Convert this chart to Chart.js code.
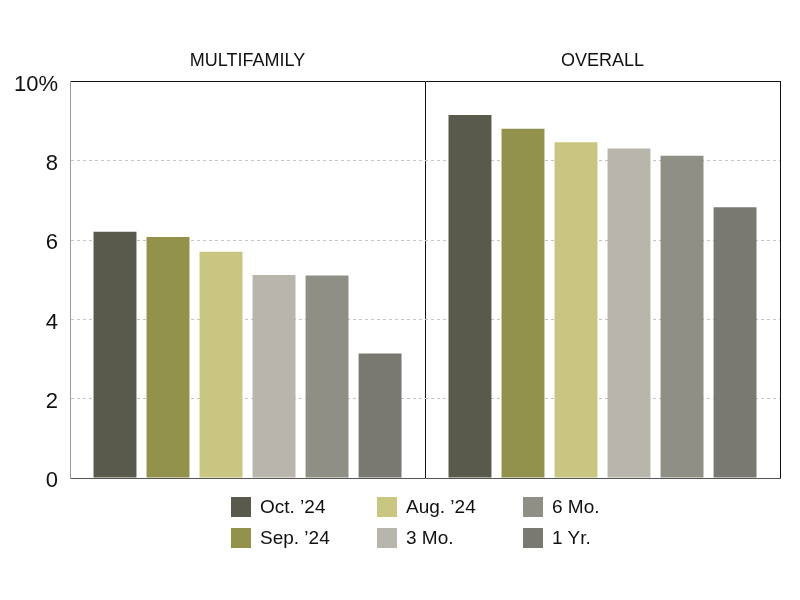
<!DOCTYPE html>
<html>
<head>
<meta charset="utf-8">
<script src="https://cdn.jsdelivr.net/npm/chart.js@4/dist/chart.umd.min.js"></script>
<style>
  body { margin: 0; background: #fff; }
  #wrap { position: relative; width: 800px; height: 600px; }
  #legend {
    position: absolute; left: 231px; top: 497px;
    display: grid; grid-template-columns: 146px 146px auto;
    grid-auto-flow: column; grid-template-rows: 20px 20px; row-gap: 11px;
    font-family: "Liberation Sans", Arial, sans-serif; font-size: 19px; color: #111;
  }
  .item { display: flex; align-items: center; height: 20px; }
  .box { width: 20px; height: 20px; margin-right: 9px; }
</style>
</head>
<body>
<div id="wrap">
  <canvas id="chart" width="800" height="600"></canvas>
  <div id="legend"></div>
</div>
<script>
// categories and series
const categories = ["MULTIFAMILY", "OVERALL"];
const seriesNames = ["Oct. \u201924", "Sep. \u201924", "Aug. \u201924", "3 Mo.", "6 Mo.", "1 Yr."];
const seriesColors = ["#5a5a4c", "#93924c", "#c8c680", "#b8b6ac", "#8f8f86", "#797972"];

const oct24 = [6.21, 9.16];
const sep24 = [6.08, 8.81];
const aug24 = [5.71, 8.47];
const threeMo = [5.12, 8.31];
const sixMo = [5.11, 8.13];
const oneYr = [3.14, 6.83];

const yTicks = [0, 2, 4, 6, 8, 10];

const values = [oct24, sep24, aug24, threeMo, sixMo, oneYr];
const font = "'Liberation Sans', Arial, sans-serif";

const datasets = values.map((v, i) => ({
  label: seriesNames[i],
  data: v,
  backgroundColor: seriesColors[i],
  borderWidth: 0,
  categoryPercentage: 0.896,
  barPercentage: 0.81,
}));

const chart = new Chart(document.getElementById("chart"), {
  type: "bar",
  data: { labels: categories, datasets: datasets },
  options: {
    responsive: false,
    animation: false,
    layout: { padding: { left: 2, right: 20, top: 40, bottom: 122 } },
    plugins: { legend: { display: false }, tooltip: { enabled: false } },
    scales: {
      x: {
        position: "top",
        grid: { color: "#111", lineWidth: 1, drawTicks: false, offset: true },
        border: { display: true, color: "#111" },
        ticks: { color: "#111", font: { family: font, size: 18 }, padding: 10 },
      },
      x2: {
        type: "category",
        labels: categories,
        position: "bottom",
        grid: { display: false, drawTicks: false },
        border: { display: true, color: "#555" },
        ticks: { display: false },
      },
      y: {
        min: 0,
        max: 10,
        afterBuildTicks: (axis) => { axis.ticks = yTicks.map(v => ({ value: v })); },
        grid: {
          drawTicks: false,
          color: (c) => (c.tick && (c.tick.value === 0 || c.tick.value === 10)) ? "rgba(0,0,0,0)" : "#c4c4c4",
        },
        border: { display: true, color: "#999", dash: [3, 3] },
        ticks: {
          color: "#111",
          font: { family: font, size: 22 },
          padding: 12,
          labelOffset: 3,
          callback: (v) => v === 10 ? "10%" : v,
        },
      },
    },
  },
});

// legend, column-major like the original
const legend = document.getElementById("legend");
datasets.forEach((d) => {
  const item = document.createElement("div");
  item.className = "item";
  item.innerHTML = '<span class="box" style="background:' + d.backgroundColor + '"></span>' + d.label;
  legend.appendChild(item);
});
</script>
</body>
</html>
